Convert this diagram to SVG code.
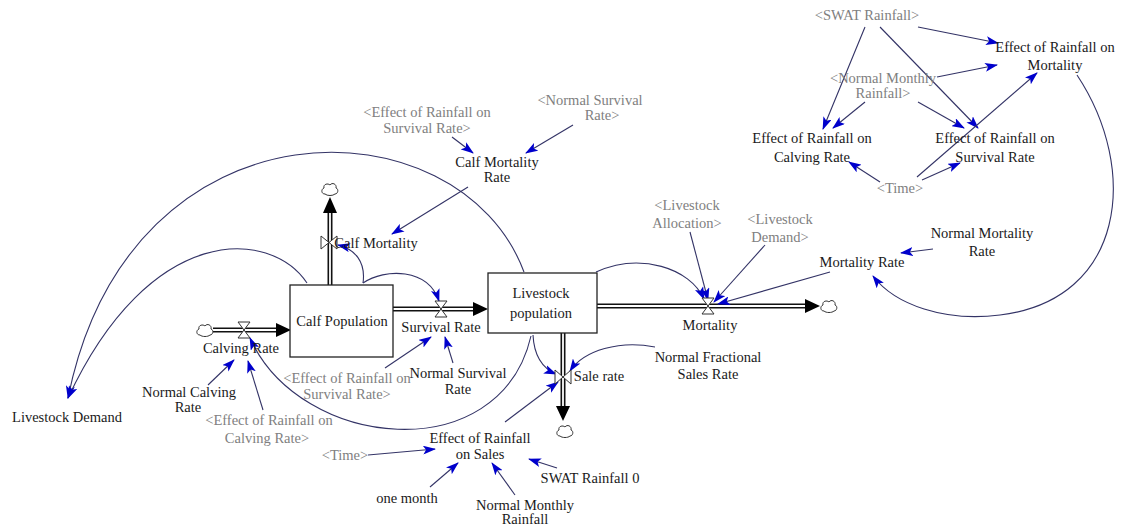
<svg xmlns="http://www.w3.org/2000/svg" width="1123" height="529" viewBox="0 0 1123 529">
<style>
text{font-family:"Liberation Serif","Times New Roman",serif;font-size:14.5px;fill:#1a1a1a;text-anchor:middle}
text.g{fill:#808080}
.c{fill:none;stroke:#333366;stroke-width:1.1;marker-end:url(#ah)}
.box{fill:#fff;stroke:#222;stroke-width:1.3}
.pipe{stroke:#111;stroke-width:5;fill:none}
.pin{stroke:#fff;stroke-width:1.8;fill:none}
.head{fill:#000}
.valve{fill:#fff;stroke:#333;stroke-width:1}
.cloud{fill:#fff;stroke:#333;stroke-width:1}
</style>
<defs>
<marker id="ah" markerWidth="13" markerHeight="9" refX="12" refY="4.5" orient="auto" markerUnits="userSpaceOnUse"><path d="M0,0 L13,4.5 L0,9 L3,4.5 Z" fill="#0000cc"/></marker>
<path id="cl" d="M-5,5 C-9,5 -9,0 -6,-1 C-7,-5 -2,-6 0,-4 C2,-7 7,-5 6,-1 C9,0 8,5 5,5 C3,7 -3,7 -5,5 Z"/>
</defs>
<rect width="1123" height="529" fill="#fff"/>

<g id="flows">
  <line class="pipe" x1="213" y1="330" x2="278" y2="330"/><line class="pin" x1="213" y1="330" x2="278" y2="330"/>
  <polygon class="head" points="276,323 291,330 276,337"/>
  <use href="#cl" x="205" y="330" class="cloud"/>
  <line class="pipe" x1="330" y1="285" x2="330" y2="211"/><line class="pin" x1="330" y1="285" x2="330" y2="211"/>
  <polygon class="head" points="323,213 330,197 337,213"/>
  <use href="#cl" x="330" y="189" class="cloud"/>
  <line class="pipe" x1="393" y1="309" x2="475" y2="309"/><line class="pin" x1="393" y1="309" x2="475" y2="309"/>
  <polygon class="head" points="473,302 488,309 473,316"/>
  <line class="pipe" x1="597" y1="306" x2="807" y2="306"/><line class="pin" x1="597" y1="306" x2="807" y2="306"/>
  <polygon class="head" points="805,299 820,306 805,313"/>
  <use href="#cl" x="829" y="306" class="cloud"/>
  <line class="pipe" x1="563" y1="333" x2="563" y2="408"/><line class="pin" x1="563" y1="333" x2="563" y2="408"/>
  <polygon class="head" points="556,406 563,421 570,406"/>
  <use href="#cl" x="565" y="431" class="cloud"/>
</g>

<g id="connectors">
  <path class="c" d="M524,272 C460,100 130,90 68,398"/>
  <path class="c" d="M307,283 C270,228 150,222 68,398"/>
  <path class="c" d="M363,283 C366,262 355,249 338,245"/>
  <line class="c" x1="468" y1="187" x2="392" y2="234"/>
  <line class="c" x1="452" y1="137" x2="473" y2="153"/>
  <line class="c" x1="573" y1="125" x2="526" y2="153"/>
  <path class="c" d="M363,283 C385,268 428,268 439,301"/>
  <line class="c" x1="385" y1="368" x2="431" y2="337"/>
  <line class="c" x1="453" y1="363" x2="445" y2="337"/>
  <path class="c" d="M531,336 C500,470 300,450 250,338"/>
  <line class="c" x1="208" y1="385" x2="234" y2="360"/>
  <line class="c" x1="263" y1="410" x2="248" y2="361"/>
  <path class="c" d="M533,335 C534,355 542,368 556,374"/>
  <path class="c" d="M655,347 C620,340 584,350 570,371"/>
  <line class="c" x1="505" y1="422" x2="558" y2="382"/>
  <line class="c" x1="368" y1="455" x2="435" y2="449"/>
  <line class="c" x1="430" y1="487" x2="458" y2="463"/>
  <line class="c" x1="515" y1="495" x2="492" y2="463"/>
  <line class="c" x1="557" y1="468" x2="529" y2="459"/>
  <path class="c" d="M596,272 C640,252 690,268 704,299"/>
  <line class="c" x1="690" y1="232" x2="708" y2="300"/>
  <line class="c" x1="765" y1="245" x2="714" y2="302"/>
  <line class="c" x1="830" y1="272" x2="718" y2="304"/>
  <line class="c" x1="933" y1="249" x2="901" y2="253"/>
  <path class="c" d="M1077,75 C1140,170 1125,300 1000,315 C945,322 895,305 873,276"/>
  <line class="c" x1="918" y1="27" x2="998" y2="43"/>
  <line class="c" x1="865" y1="27" x2="823" y2="129"/>
  <line class="c" x1="880" y1="27" x2="978" y2="128"/>
  <line class="c" x1="937" y1="77" x2="997" y2="65"/>
  <line class="c" x1="865" y1="102" x2="833" y2="128"/>
  <line class="c" x1="918" y1="102" x2="964" y2="128"/>
  <line class="c" x1="880" y1="182" x2="849" y2="162"/>
  <line class="c" x1="922" y1="180" x2="960" y2="163"/>
  <line class="c" x1="917" y1="177" x2="1037" y2="73"/>
</g>

<g id="calf-population">
  <rect class="box" x="290" y="285" width="103" height="72"/>
  <text x="342" y="326">Calf Population</text>
</g>
<g id="livestock-population">
  <rect class="box" x="488" y="273" width="109" height="60"/>
  <text x="541" y="298">Livestock</text>
  <text x="541" y="318">population</text>
</g>

<g id="calving-rate">
  <path class="valve" d="M238,322 L250,322 L238,338 L250,338 Z"/>
  <text x="241" y="353">Calving Rate</text>
</g>
<g id="calf-mortality">
  <path class="valve" d="M321,236 L321,249 L337,236 L337,249 Z"/>
  <text x="376" y="248">Calf Mortality</text>
</g>
<g id="survival-rate">
  <path class="valve" d="M435,301 L447,301 L435,317 L447,317 Z"/>
  <text x="441" y="332">Survival Rate</text>
</g>
<g id="mortality">
  <path class="valve" d="M702,298 L714,298 L702,314 L714,314 Z"/>
  <text x="710" y="330">Mortality</text>
</g>
<g id="sale-rate">
  <path class="valve" d="M555,370 L555,384 L571,370 L571,384 Z"/>
  <text x="599" y="381">Sale rate</text>
</g>

<g id="calf-mortality-rate"><text x="497" y="167">Calf Mortality</text><text x="497" y="182">Rate</text></g>
<g id="eff-survival-top"><text class="g" x="427" y="117">&lt;Effect of Rainfall on</text><text class="g" x="427" y="133">Survival Rate&gt;</text></g>
<g id="normal-survival-top"><text class="g" x="590" y="105">&lt;Normal Survival</text><text class="g" x="602" y="120">Rate&gt;</text></g>
<g id="livestock-demand"><text x="67" y="422">Livestock Demand</text></g>
<g id="normal-calving-rate"><text x="189" y="397">Normal Calving</text><text x="188" y="412">Rate</text></g>
<g id="eff-calving-low"><text class="g" x="269" y="425">&lt;Effect of Rainfall on</text><text class="g" x="267" y="443">Calving Rate&gt;</text></g>
<g id="eff-survival-low"><text class="g" x="347" y="383">&lt;Effect of Rainfall on</text><text class="g" x="347" y="399">Survival Rate&gt;</text></g>
<g id="normal-survival-rate"><text x="458" y="378">Normal Survival</text><text x="458" y="394">Rate</text></g>
<g id="effect-sales"><text x="480" y="443">Effect of Rainfall</text><text x="480" y="459">on Sales</text></g>
<g id="time-low"><text class="g" x="345" y="460">&lt;Time&gt;</text></g>
<g id="one-month"><text x="407" y="503">one month</text></g>
<g id="normal-monthly-rainfall"><text x="525" y="510">Normal Monthly</text><text x="525" y="524">Rainfall</text></g>
<g id="swat-rainfall-0"><text x="590" y="483">SWAT Rainfall 0</text></g>
<g id="normal-fractional"><text x="708" y="362">Normal Fractional</text><text x="708" y="379">Sales Rate</text></g>
<g id="livestock-allocation"><text class="g" x="687" y="210">&lt;Livestock</text><text class="g" x="687" y="228">Allocation&gt;</text></g>
<g id="livestock-demand-ghost"><text class="g" x="780" y="224">&lt;Livestock</text><text class="g" x="780" y="242">Demand&gt;</text></g>
<g id="mortality-rate"><text x="862" y="267">Mortality Rate</text></g>
<g id="normal-mortality-rate"><text x="982" y="238">Normal Mortality</text><text x="982" y="256">Rate</text></g>
<g id="swat-rainfall"><text class="g" x="867" y="20">&lt;SWAT Rainfall&gt;</text></g>
<g id="eff-mortality"><text x="1055" y="52">Effect of Rainfall on</text><text x="1055" y="70">Mortality</text></g>
<g id="normal-monthly-ghost"><text class="g" x="883" y="83">&lt;Normal Monthly</text><text class="g" x="883" y="98">Rainfall&gt;</text></g>
<g id="eff-calving"><text x="812" y="143">Effect of Rainfall on</text><text x="812" y="162">Calving Rate</text></g>
<g id="eff-survival"><text x="995" y="143">Effect of Rainfall on</text><text x="995" y="162">Survival Rate</text></g>
<g id="time-top"><text class="g" x="900" y="193">&lt;Time&gt;</text></g>
</svg>
